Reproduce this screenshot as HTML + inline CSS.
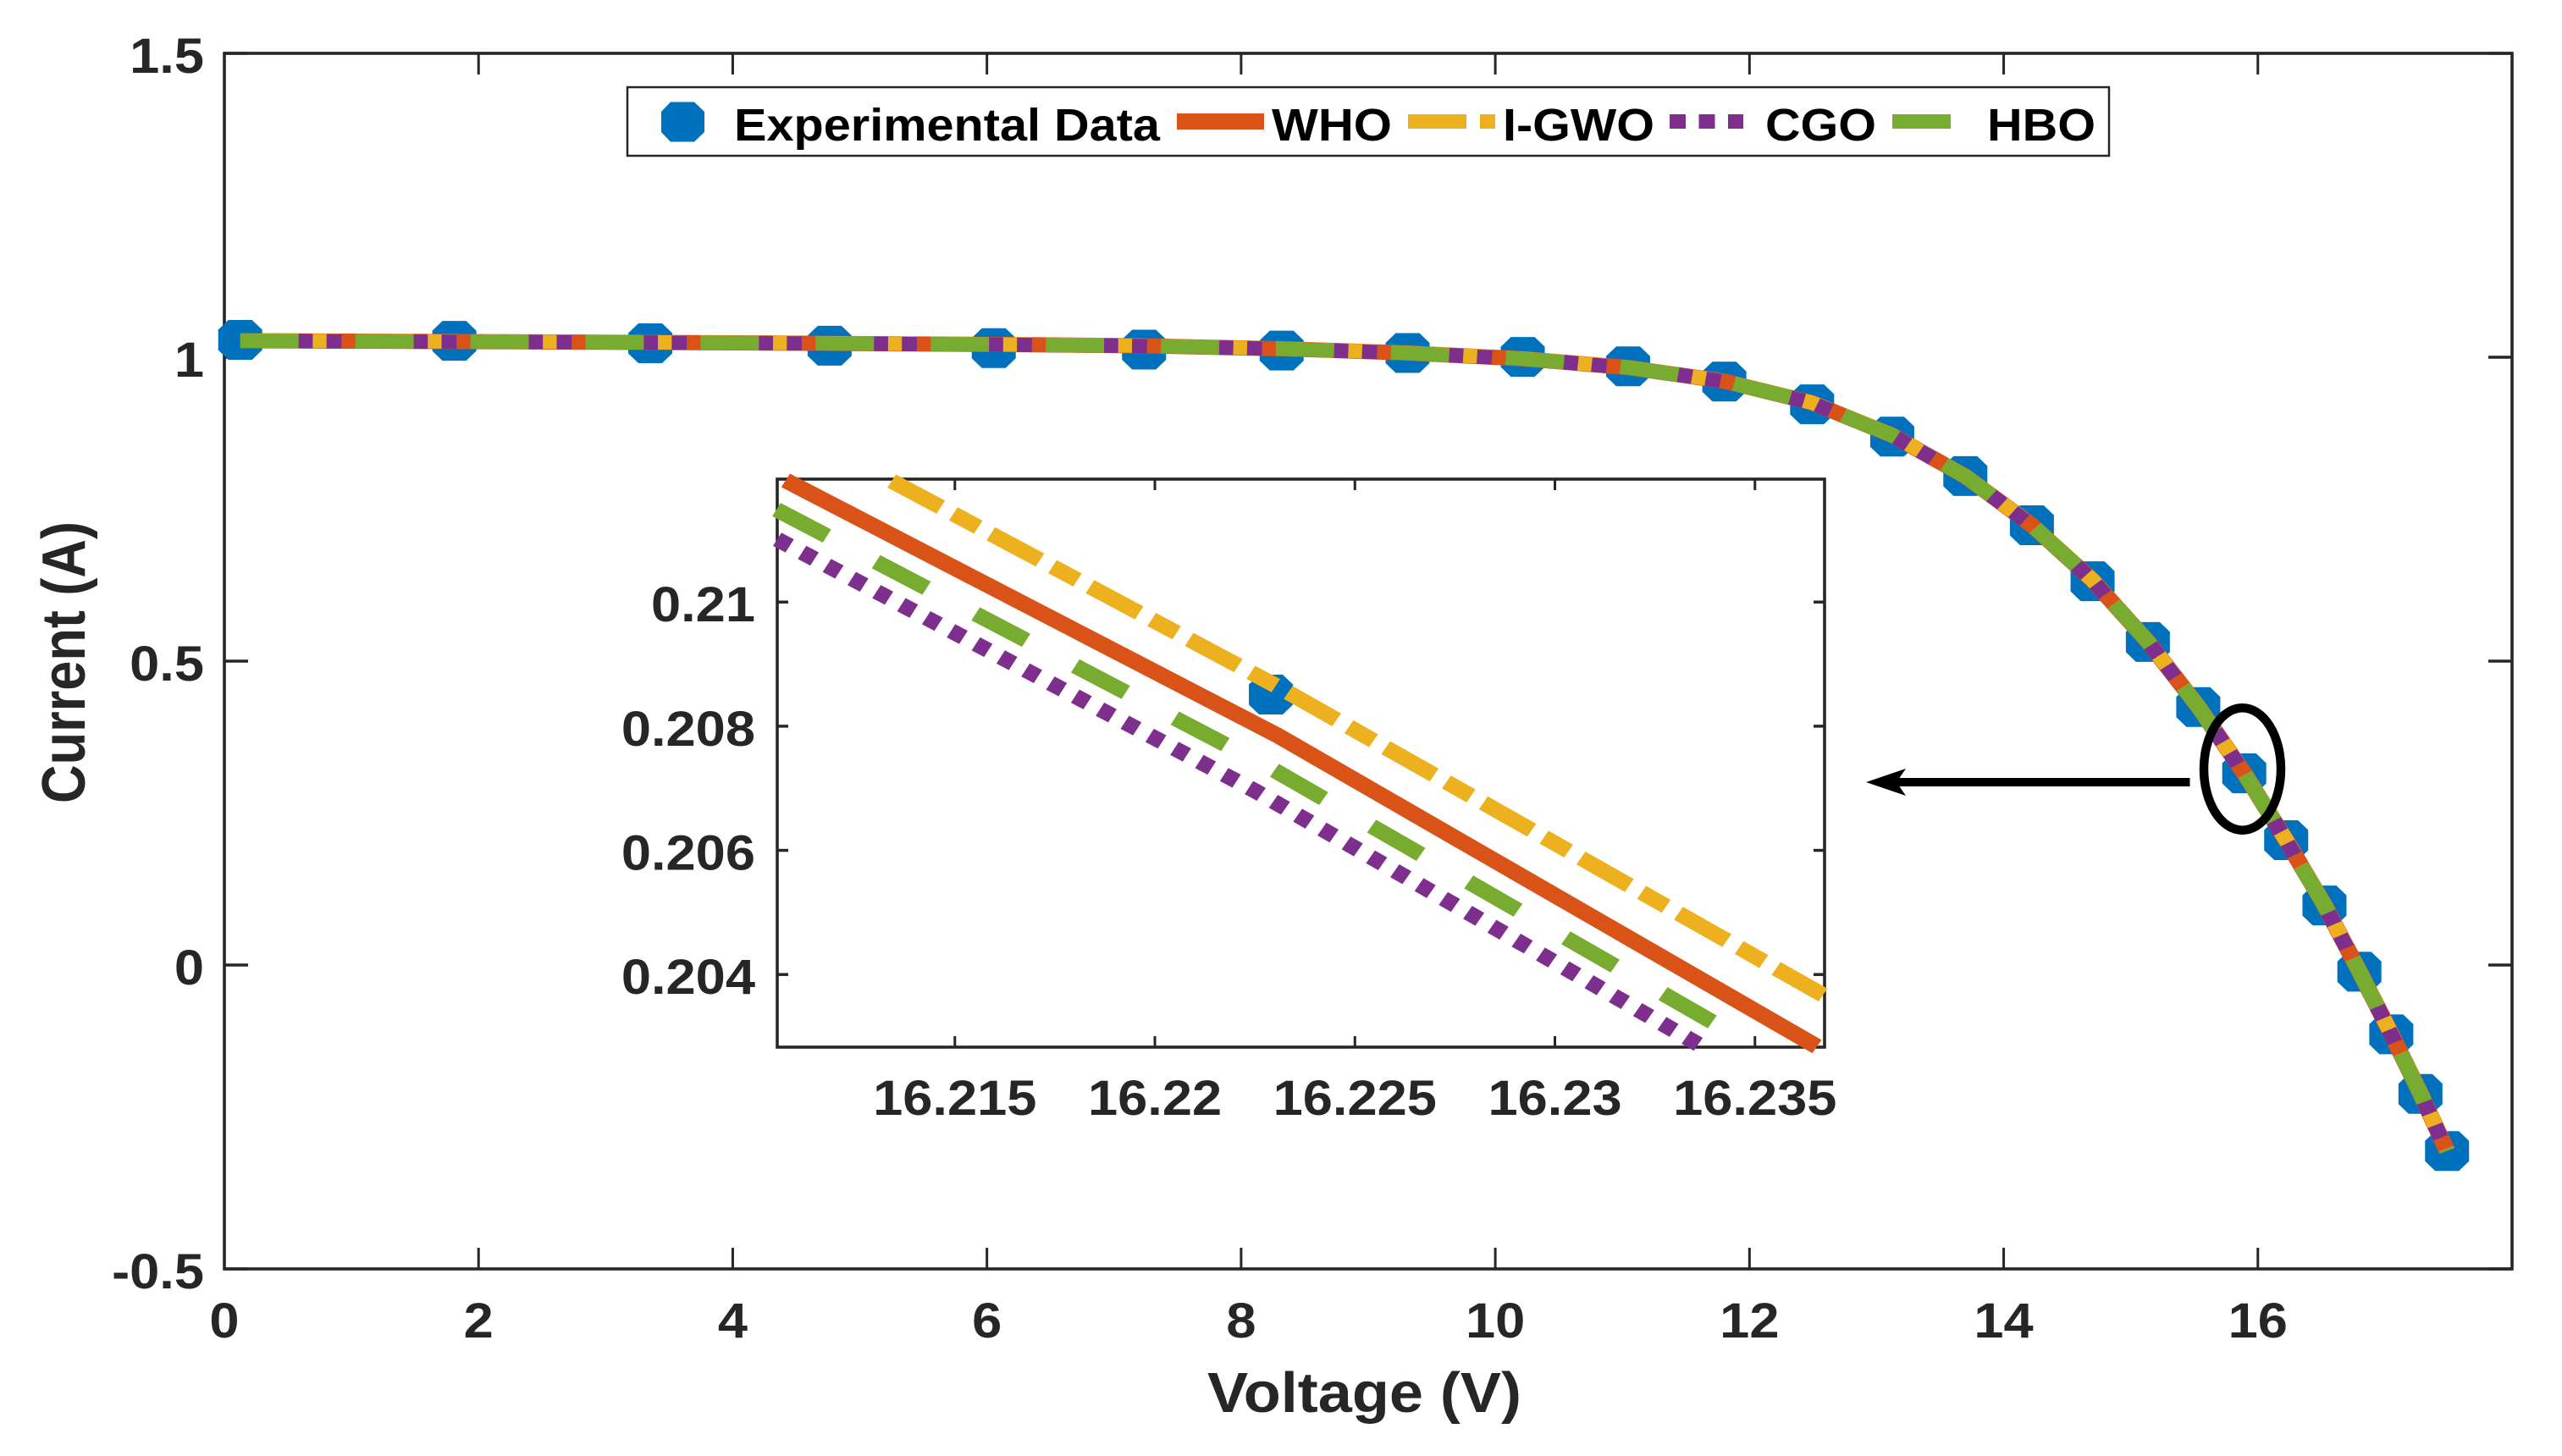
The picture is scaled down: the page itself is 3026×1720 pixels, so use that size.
<!DOCTYPE html>
<html lang="en">
<head>
<meta charset="utf-8">
<title>Current vs Voltage characteristic</title>
<style>
html,body{margin:0;padding:0;background:#fff}
svg{display:block}
text{font-family:"Liberation Sans",Arial,sans-serif;font-weight:700}
</style>
</head>
<body>
<svg id="chart" xmlns="http://www.w3.org/2000/svg" width="3026" height="1720" viewBox="0 0 3026 1720">
  <rect x="0" y="0" width="3026" height="1720" fill="#ffffff"/>
  <text x="1426" y="1668" font-size="67" fill="#262626" textLength="371" lengthAdjust="spacingAndGlyphs">Voltage (V)</text>
  <text transform="translate(100 949) rotate(-90)" x="0" y="0" font-size="72" fill="#262626" textLength="333" lengthAdjust="spacingAndGlyphs">Current (A)</text>
  <g id="main-plot"></g>
  <g id="legend">
    <rect x="741" y="103" width="1750" height="81" fill="#ffffff" stroke="#262626" stroke-width="2.5"/>
    <polygon fill="#0072BD" points="792,120.5 820,120.5 832,132 832,156 820,167.5 792,167.5 781,156 781,132"/>
    <text x="867" y="166" font-size="54" fill="#000000" textLength="503" lengthAdjust="spacingAndGlyphs">Experimental Data</text>
    <line x1="1390" y1="143.5" x2="1493" y2="143.5" stroke="#D95319" stroke-width="19"/>
    <text x="1502" y="166" font-size="54" fill="#000000" textLength="142" lengthAdjust="spacingAndGlyphs">WHO</text>
    <line x1="1663" y1="143.5" x2="1766" y2="143.5" stroke="#EDB120" stroke-width="17" stroke-dasharray="69 16 18 100"/>
    <text x="1775" y="166" font-size="54" fill="#000000" textLength="179" lengthAdjust="spacingAndGlyphs">I-GWO</text>
    <line x1="1972" y1="143.5" x2="2059" y2="143.5" stroke="#7E2F8E" stroke-width="17" stroke-dasharray="19 15.5"/>
    <text x="2085" y="166" font-size="54" fill="#000000" textLength="131" lengthAdjust="spacingAndGlyphs">CGO</text>
    <line x1="2235" y1="143.5" x2="2304" y2="143.5" stroke="#77AC30" stroke-width="17"/>
    <text x="2347" y="166" font-size="54" fill="#000000" textLength="128" lengthAdjust="spacingAndGlyphs">HBO</text>
  </g>
  <g id="inset-plot"></g>
  <g id="annotation">
    <ellipse cx="2648.5" cy="908.5" rx="45.5" ry="72.2" fill="none" stroke="#000000" stroke-width="10.5"/>
    <line x1="2586.5" y1="924" x2="2235" y2="924" stroke="#000000" stroke-width="10"/>
    <polygon fill="#000000" points="2204,924 2251,908 2240,924 2251,940"/>
  </g>
</svg>
<script>
// Main axes data
const xTicks = [0, 2, 4, 6, 8, 10, 12, 14, 16];
const xTickLabels = ['0', '2', '4', '6', '8', '10', '12', '14', '16'];
const yTicks = [-0.5, 0, 0.5, 1, 1.5];
const yTickLabels = ['-0.5', '0', '0.5', '1', '1.5'];
const voltage = [0.1248, 1.8093, 3.3511, 4.7622, 6.0538, 7.2364, 8.3189, 9.3097, 10.2163, 11.0449, 11.8018, 12.4929, 13.1231, 13.6983, 14.2221, 14.6995, 15.1346, 15.5311, 15.8929, 16.2229, 16.5241, 16.7987, 17.0499, 17.2793, 17.4885];
const experimental = [1.0285, 1.027, 1.023, 1.019, 1.015, 1.0125, 1.011, 1.007, 1.0005, 0.985, 0.96, 0.9225, 0.8695, 0.8045, 0.7235, 0.6315, 0.5315, 0.4245, 0.3155, 0.2055, 0.098, -0.011, -0.114, -0.212, -0.306];
const whoCurrent = [1.0271, 1.0258, 1.0244, 1.0228, 1.021, 1.0188, 1.014, 1.007, 0.9975, 0.983, 0.9605, 0.925, 0.8715, 0.804, 0.7235, 0.633, 0.532, 0.425, 0.3155, 0.2052, 0.0985, -0.0105, -0.1135, -0.2115, -0.3055];
const igwoCurrent = [1.0273, 1.026, 1.0246, 1.023, 1.0212, 1.019, 1.0142, 1.0072, 0.9977, 0.9832, 0.9607, 0.9252, 0.8718, 0.8043, 0.7238, 0.6333, 0.5323, 0.4253, 0.3159, 0.2056, 0.0989, -0.0101, -0.1131, -0.2111, -0.3051];
const cgoCurrent = [1.0268, 1.0255, 1.0241, 1.0225, 1.0207, 1.0185, 1.0137, 1.0067, 0.9972, 0.9827, 0.9602, 0.9246, 0.8711, 0.8036, 0.7231, 0.6326, 0.5316, 0.4246, 0.3151, 0.2044, 0.0977, -0.0113, -0.1143, -0.2123, -0.3063];
const hboCurrent = [1.0269, 1.0256, 1.0242, 1.0226, 1.0208, 1.0186, 1.0138, 1.0068, 0.9973, 0.9828, 0.9603, 0.9248, 0.8713, 0.8038, 0.7233, 0.6328, 0.5318, 0.4248, 0.3152, 0.2047, 0.098, -0.011, -0.114, -0.212, -0.306];

// Inset axes data
const insetXTicks = [16.215, 16.22, 16.225, 16.23, 16.235];
const insetXTickLabels = ['16.215', '16.22', '16.225', '16.23', '16.235'];
const insetYTicks = [0.204, 0.206, 0.208, 0.21];
const insetYTickLabels = ['0.204', '0.206', '0.208', '0.21'];
const insetPointV = [16.2229];
const insetPointI = [0.20851];
const insetWhoV = [16.21077, 16.22307, 16.23655];
const insetWhoI = [0.21196, 0.20785, 0.20284];
const insetIgwoV = [16.21342, 16.22315, 16.2367];
const insetIgwoI = [0.21195, 0.20861, 0.20367];
const insetCgoV = [16.21056, 16.2225, 16.23371];
const insetCgoI = [0.21101, 0.20696, 0.20283];
const insetHboV = [16.21054, 16.22296, 16.23503];
const insetHboI = [0.21149, 0.2073, 0.20283];

const SVG_NS = 'http://www.w3.org/2000/svg';
const AXIS_COLOR = '#262626';
// The source figure is stretched horizontally, so strokes and dashes are drawn in a stretched space.
const STRETCH_X = 1.105;
const mainBox = {left: 265, right: 2967, top: 63, bottom: 1499};
const mainRange = {xMin: 0, xMax: 18, yMin: -0.5, yMax: 1.5};
const insetBox = {left: 918, right: 2155, top: 566, bottom: 1237};
const insetRange = {xMin: 16.21056, xMax: 16.23674, yMin: 0.20283, yMax: 0.21198};

function scaleX(box, range, v) {
  return box.left + (v - range.xMin) / (range.xMax - range.xMin) * (box.right - box.left);
}
function scaleY(box, range, v) {
  return box.bottom - (v - range.yMin) / (range.yMax - range.yMin) * (box.bottom - box.top);
}
function make(tag, parent, name, props) {
  const el = document.createElementNS(SVG_NS, tag);
  
  
  for (const key in props) el.setAttribute(key, props[key]);
  parent.appendChild(el);
  return el;
}
function label(parent, name, str, x, y, anchor, size, sx) {
  const el = make('text', parent, name, {
    transform: 'translate(' + x + ' ' + y + ') scale(' + sx + ' 1)',
    'text-anchor': anchor,
    'font-size': size,
    fill: AXIS_COLOR
  });
  el.textContent = str;
}
function drawSeries(parent, box, range, name, xs, ys, color, width, dash) {
  const pts = xs.map(function (v, i) {
    return (scaleX(box, range, v) / STRETCH_X).toFixed(2) + ',' + scaleY(box, range, ys[i]).toFixed(2);
  }).join(' ');
  const props = {
    points: pts,
    transform: 'scale(' + STRETCH_X + ' 1)',
    fill: 'none',
    stroke: color,
    'stroke-width': width,
    'stroke-linejoin': 'round',
    'stroke-linecap': 'butt'
  };
  if (dash) props['stroke-dasharray'] = dash;
  make('polyline', parent, name, props);
}
function drawMarkers(parent, box, range, xs, ys) {
  xs.forEach(function (v, i) {
    const cx = scaleX(box, range, v);
    const cy = scaleY(box, range, ys[i]);
    const offsets = [[-14, -23.5], [14, -23.5], [26, -12], [26, 12], [14, 23.5], [-14, 23.5], [-26, 12], [-26, -12]];
    const pts = offsets.map(function (o) {
      return (cx + o[0]).toFixed(2) + ',' + (cy + o[1]).toFixed(2);
    }).join(' ');
    make('polygon', parent, 'experimental-point', {points: pts, fill: '#0072BD'});
  });
}
function drawFrame(parent, box, name, fill) {
  make('rect', parent, name, {
    x: box.left, y: box.top, width: box.right - box.left, height: box.bottom - box.top,
    fill: fill, stroke: AXIS_COLOR, 'stroke-width': 3.6
  });
}
function drawXTicks(parent, box, range, ticks, len, name) {
  ticks.forEach(function (t) {
    const x = scaleX(box, range, t);
    make('line', parent, name, {x1: x, y1: box.bottom, x2: x, y2: box.bottom - len, stroke: AXIS_COLOR, 'stroke-width': 3});
    make('line', parent, name, {x1: x, y1: box.top, x2: x, y2: box.top + len, stroke: AXIS_COLOR, 'stroke-width': 3});
  });
}
function drawYTicks(parent, box, range, ticks, len, name) {
  ticks.forEach(function (t) {
    const y = scaleY(box, range, t);
    make('line', parent, name, {x1: box.left, y1: y, x2: box.left + len, y2: y, stroke: AXIS_COLOR, 'stroke-width': 3.5});
    make('line', parent, name, {x1: box.right, y1: y, x2: box.right - len, y2: y, stroke: AXIS_COLOR, 'stroke-width': 3.5});
  });
}

// Main plot
const mainGroup = document.getElementById('main-plot');
drawFrame(mainGroup, mainBox, 'main-axes-frame', 'none');
drawXTicks(mainGroup, mainBox, mainRange, xTicks, 25, 'x-tick');
drawYTicks(mainGroup, mainBox, mainRange, yTicks, 28, 'y-tick');
xTicks.forEach(function (t, i) {
  label(mainGroup, 'x-tick-label', xTickLabels[i], scaleX(mainBox, mainRange, t), 1580, 'middle', 58, 1.09);
});
yTicks.forEach(function (t, i) {
  label(mainGroup, 'y-tick-label', yTickLabels[i], 241, scaleY(mainBox, mainRange, t) + 23, 'end', 58, 1.09);
});
drawMarkers(mainGroup, mainBox, mainRange, voltage, experimental);
drawSeries(mainGroup, mainBox, mainRange, 'series-who', voltage, whoCurrent, '#D95319', 18, null);
drawSeries(mainGroup, mainBox, mainRange, 'series-i-gwo', voltage, igwoCurrent, '#EDB120', 17, '61 15.5 31 15.5');
drawSeries(mainGroup, mainBox, mainRange, 'series-cgo', voltage, cgoCurrent, '#7E2F8E', 17, '16 14.75');
drawSeries(mainGroup, mainBox, mainRange, 'series-hbo', voltage, hboCurrent, '#77AC30', 17, '62.4 60.6');

// Inset plot
const insetGroup = document.getElementById('inset-plot');
drawFrame(insetGroup, insetBox, 'inset-axes-frame', '#ffffff');
drawXTicks(insetGroup, insetBox, insetRange, insetXTicks, 13, 'inset-x-tick');
drawYTicks(insetGroup, insetBox, insetRange, insetYTicks, 13, 'inset-y-tick');
insetXTicks.forEach(function (t, i) {
  label(insetGroup, 'inset-x-tick-label', insetXTickLabels[i], scaleX(insetBox, insetRange, t), 1317, 'middle', 58, 1.09);
});
insetYTicks.forEach(function (t, i) {
  label(insetGroup, 'inset-y-tick-label', insetYTickLabels[i], 892, scaleY(insetBox, insetRange, t) + 23, 'end', 58, 1.09);
});
drawMarkers(insetGroup, insetBox, insetRange, insetPointV, insetPointI);
drawSeries(insetGroup, insetBox, insetRange, 'inset-series-who', insetWhoV, insetWhoI, '#D95319', 18.5, null);
drawSeries(insetGroup, insetBox, insetRange, 'inset-series-i-gwo', insetIgwoV, insetIgwoI, '#EDB120', 18, '61 15.5 31 15.5');
drawSeries(insetGroup, insetBox, insetRange, 'inset-series-cgo', insetCgoV, insetCgoI, '#7E2F8E', 18, '15.4 15.3');
drawSeries(insetGroup, insetBox, insetRange, 'inset-series-hbo', insetHboV, insetHboI, '#77AC30', 18, '62.4 60.6');
</script>
</body>
</html>
